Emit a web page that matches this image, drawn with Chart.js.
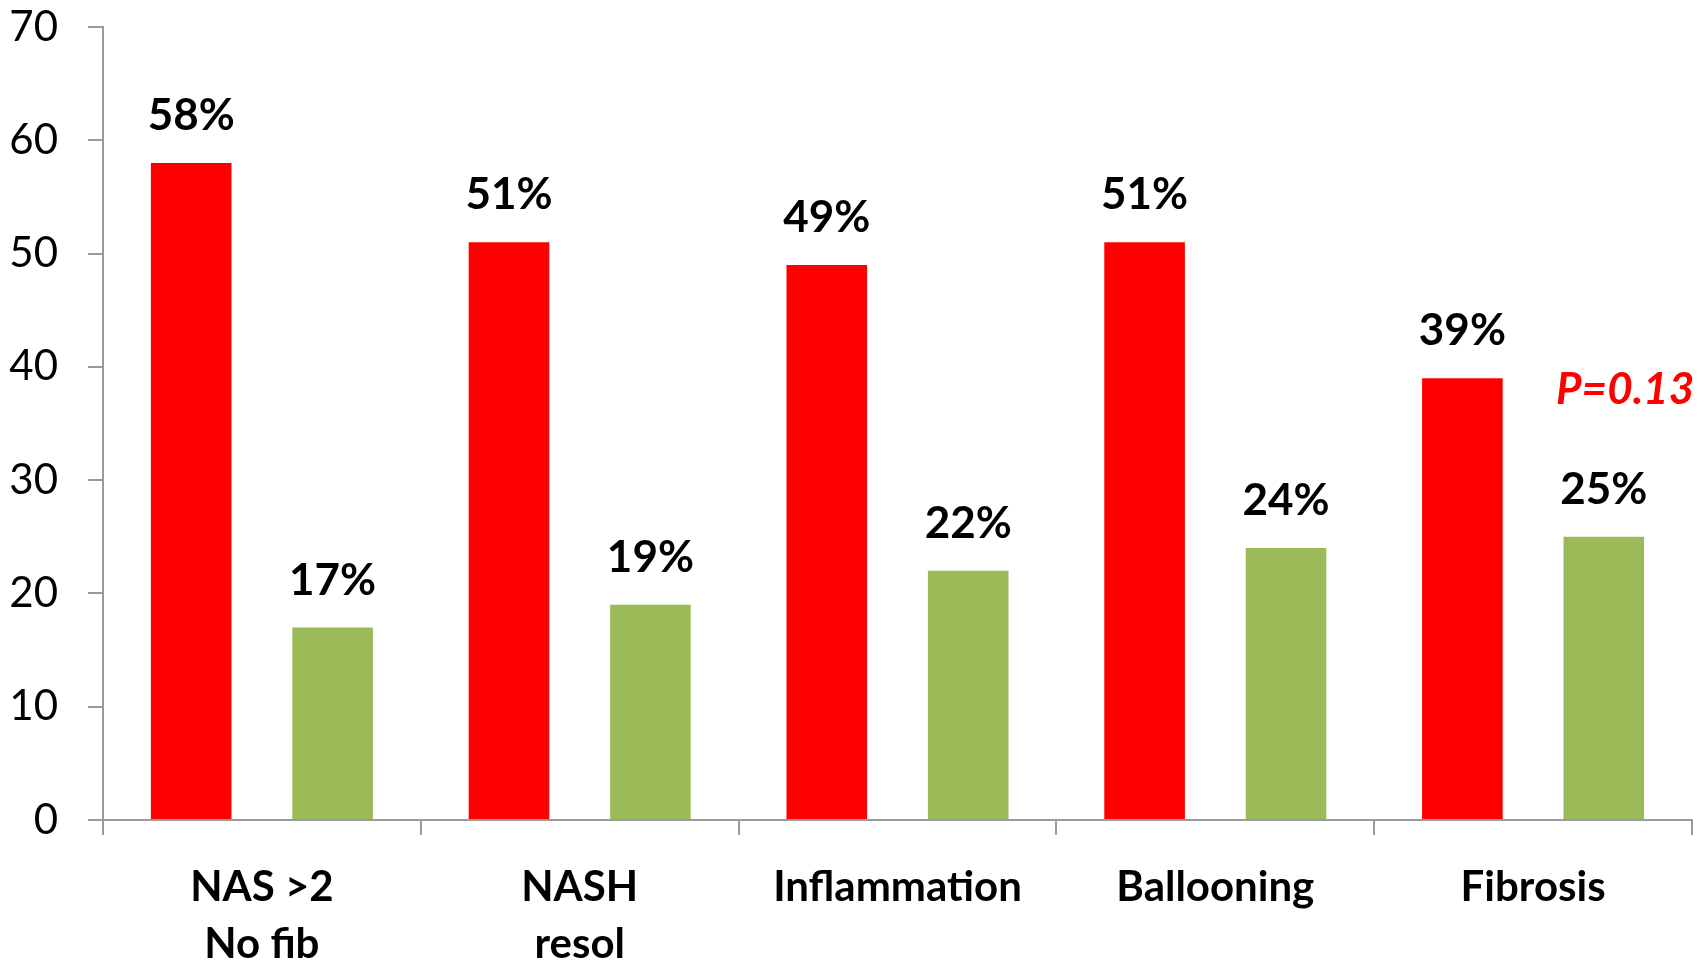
<!DOCTYPE html>
<html>
<head>
<meta charset="utf-8">
<script src="https://cdn.jsdelivr.net/npm/chart.js@4"></script>
<style>
  html, body { margin: 0; padding: 0; background: #fff; }
  #wrap { width: 1707px; height: 963px; }
</style>
</head>
<body>
<div id="wrap"><canvas id="chart"></canvas></div>
<script>
// data
const categories = [['NAS >2', 'No fib'], ['NASH', 'resol'], 'Inflammation', 'Ballooning', 'Fibrosis'];
const redValues = [58, 51, 49, 51, 39];
const greenValues = [17, 19, 22, 24, 25];
const yTicks = [0, 10, 20, 30, 40, 50, 60, 70];
const pNote = 'P=0.13';

const AXIS_GREY = '#9a9a9a';
const FONT = 'Lato, "Open Sans", sans-serif';

// percent labels above each bar + the p value note
const barLabels = {
    id: 'barLabels',
    afterDatasetsDraw(chart) {
        const ctx = chart.ctx;
        ctx.save();
        ctx.font = 'bold 44px ' + FONT;
        ctx.fillStyle = '#000';
        ctx.textAlign = 'center';
        ctx.textBaseline = 'middle';
        chart.data.datasets.forEach((ds, i) => {
            chart.getDatasetMeta(i).data.forEach((bar, j) => {
                ctx.fillText(ds.data[j] + '%', bar.x, bar.y - 47);
            });
        });
        const xs = chart.scales.x, ys = chart.scales.y;
        ctx.font = 'italic bold 44px ' + FONT;
        ctx.fillStyle = '#ff0000';
        ctx.fillText(pNote, xs.getPixelForValue(4) + 92, ys.getPixelForValue(38));
        ctx.restore();
    }
};

new Chart(document.getElementById('chart'), {
    type: 'bar',
    data: {
        labels: categories,
        datasets: [
            { data: redValues, backgroundColor: '#ff0000', categoryPercentage: 0.89, barPercentage: 0.57 },
            { data: greenValues, backgroundColor: '#9bbb59', categoryPercentage: 0.89, barPercentage: 0.57 }
        ]
    },
    options: {
        responsive: true,
        maintainAspectRatio: false,
        animation: false,
        layout: { padding: { top: 27, right: 15, left: 0, bottom: 0 } },
        plugins: { legend: { display: false }, tooltip: { enabled: false } },
        scales: {
            x: {
                grid: { drawOnChartArea: false, drawTicks: true, tickLength: 15, color: AXIS_GREY, lineWidth: 2, offset: true },
                border: { color: AXIS_GREY, width: 2 },
                ticks: { color: '#000', padding: 24, maxRotation: 0, autoSkip: false, font: { family: FONT, size: 42, weight: 'bold', lineHeight: 1.36 } },
                afterFit(s) { s.height = 143; }
            },
            y: {
                min: 0,
                max: 70,
                afterBuildTicks(s) { s.ticks = yTicks.map(v => ({ value: v })); },
                grid: { drawOnChartArea: false, drawTicks: true, tickLength: 15, color: AXIS_GREY, lineWidth: 2 },
                border: { color: AXIS_GREY, width: 2 },
                ticks: { color: '#000', padding: 30, font: { family: FONT, size: 42 } },
                afterFit(s) { s.width = 103; s.paddingTop = 0; s.paddingBottom = 0; }
            }
        }
    },
    plugins: [barLabels]
});
</script>
</body>
</html>
